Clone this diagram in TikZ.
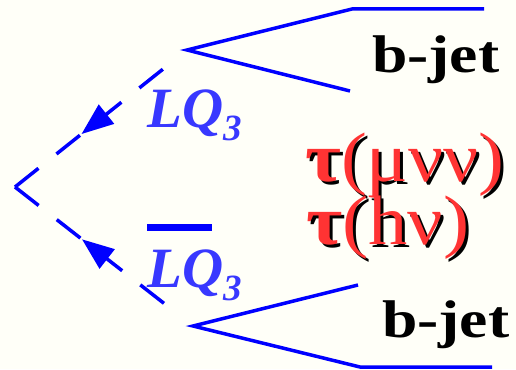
\documentclass[tikz,border=0pt]{standalone}
\usepackage{fontspec}
\setmainfont{Liberation Serif}
\usetikzlibrary{arrows.meta,decorations.markings}
\definecolor{lineblue}{HTML}{0000FF}
\definecolor{lqblue}{HTML}{3838FF}
\definecolor{decayred}{HTML}{FF3333}
\definecolor{paper}{HTML}{FFFFF8}

\newcommand{\lqtext}{LQ{\fontsize{37}{37}\selectfont\raisebox{-13pt}{3}}}
\newcommand{\jettext}{\scalebox{1.2}[1]{b-jet}}
\newcommand{\taumu}{\scalebox{1.11}[1]{\textbf{τ}(μνν)}}
\newcommand{\tauh}{\scalebox{1.12}[1]{\textbf{τ}(hν)}}

\begin{document}
\begin{tikzpicture}[x=1pt, y=-1pt,
    fermion/.style={draw=lineblue, line width=3.5pt},
    scalar/.style={draw=lineblue, line width=3.5pt, dash pattern=on 30pt off 23pt,
        postaction={decorate}, decoration={markings,
        mark=at position 85pt with {\arrowreversed{Triangle[length=32pt,width=24pt]}}}},
    lq/.style={inner sep=0pt, anchor=base west, text=lqblue,
               font=\fontsize{57}{57}\selectfont\bfseries\itshape},
    jet/.style={inner sep=0pt, anchor=base west, font=\fontsize{53}{53}\selectfont\bfseries},
    decay/.style={inner sep=0pt, anchor=base west, font=\fontsize{70}{70}\selectfont}
]
\path[use as bounding box, fill=paper] (0,0) rectangle (516,369);

% vertices
\coordinate (vx) at (15,187);
\coordinate (fa) at (187,50);
\coordinate (fb) at (193,326);
\coordinate (ja1) at (352,9);
\coordinate (ja2) at (484,9);
\coordinate (ja3) at (350,91);
\coordinate (jb1) at (358,285);
\coordinate (jb2) at (360,367);
\coordinate (jb3) at (492,367);

% leptoquark lines
\draw[scalar, shorten >=30pt] (vx) -- (fa);
\draw[scalar, shorten >=36pt] (vx) -- (fb);

% decay products
\draw[fermion] (ja2) -- (ja1) -- (fa) -- (ja3);
\draw[fermion] (jb1) -- (fb) -- (jb2) -- (jb3);

\node[lq] (lqa) at (147,127) {\lqtext};
\node[lq] (lqb) at (147,287) {\lqtext};
\draw[lineblue, line width=7pt] (147,227) -- (212,227);

\node[jet] (jeta) at (372,72) {\jettext};
\node[jet] (jetb) at (382,337) {\jettext};

\node[decay] (taumus) at (308,184) {\taumu};
\node[decay, text=decayred] (taumu) at (305,181) {\taumu};
\node[decay] (tauhs) at (309,247) {\tauh};
\node[decay, text=decayred] (tauh) at (306,244) {\tauh};
\end{tikzpicture}
\end{document}
